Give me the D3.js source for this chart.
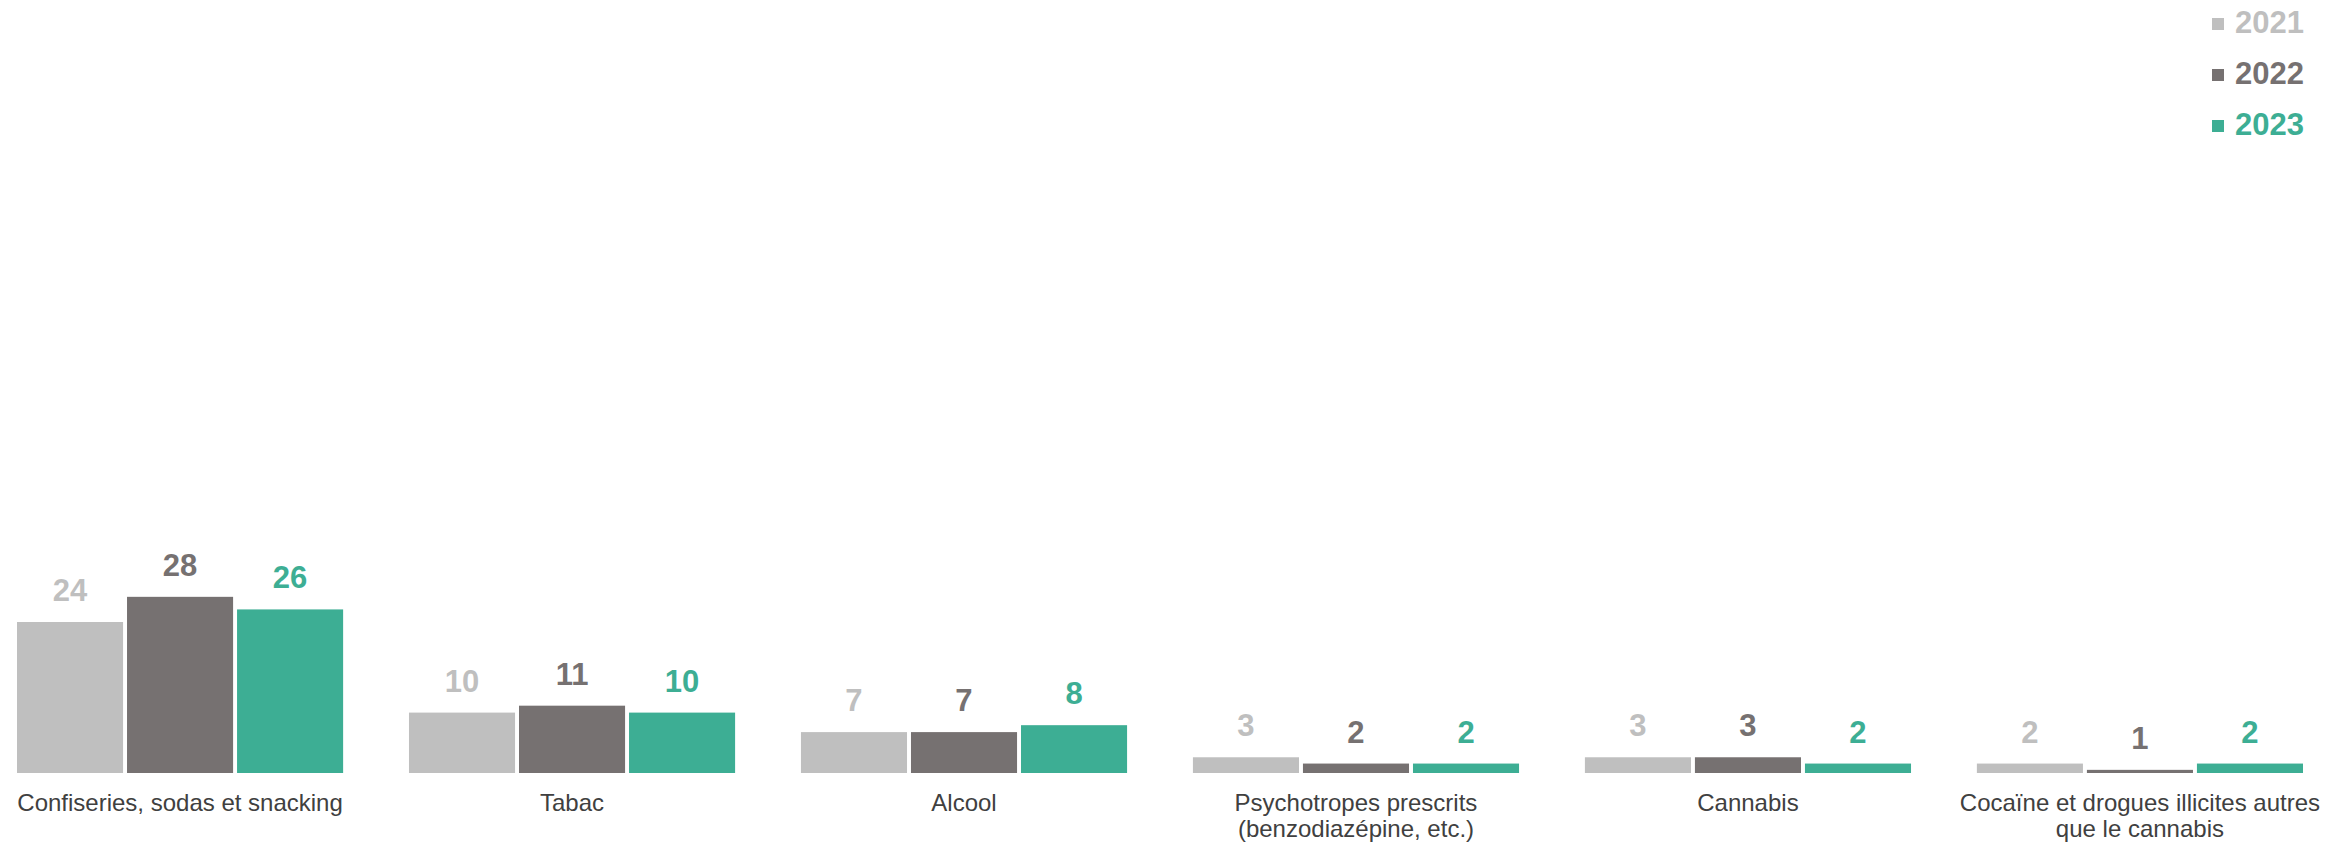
<!DOCTYPE html>
<html lang="fr">
<head>
<meta charset="utf-8">
<title>Consommations</title>
<script src="https://cdn.jsdelivr.net/npm/d3@7"></script>
<style>
  html, body { margin: 0; padding: 0; background: #fff; }
  svg { display: block; font-family: Arial, "Liberation Sans", sans-serif; }
</style>
</head>
<body>
<div id="chart"></div>
<script>
// data (labels are rounded values)
const categories = [
  ['Confiseries, sodas et snacking'],
  ['Tabac'],
  ['Alcool'],
  ['Psychotropes prescrits', '(benzodiazépine, etc.)'],
  ['Cannabis'],
  ['Cocaïne et drogues illicites autres', 'que le cannabis'],
];
const years = ['2021', '2022', '2023'];
const values2021 = [24, 9.6, 6.5, 2.5, 2.5, 1.5];
const values2022 = [28, 10.7, 6.5, 1.5, 2.5, 0.5];
const values2023 = [26, 9.6, 7.6, 1.5, 1.5, 1.5];
const colors = ['#bfbfbf', '#767171', '#3dae94'];

const width = 2346;
const height = 846;
const baseY = 773;

const series = [values2021, values2022, values2023];
const catKeys = categories.map((c) => c.join(' '));

const svg = d3.select('#chart')
  .append('svg')
  .attr('width', width)
  .attr('height', height)
  .attr('viewBox', `0 0 ${width} ${height}`);

const x = d3.scaleBand()
  .domain(catKeys)
  .range([17, 2303])
  .paddingInner(0.168)
  .paddingOuter(0);

const xYear = d3.scaleBand()
  .domain(years)
  .range([0, x.bandwidth()])
  .paddingInner(0.036)
  .paddingOuter(0);

const y = d3.scaleLinear()
  .domain([0, 120])
  .range([baseY, 18]);

const color = d3.scaleOrdinal().domain(years).range(colors);

const rows = catKeys.map((key, i) => ({
  key,
  lines: categories[i],
  vals: years.map((yr, j) => ({ year: yr, value: series[j][i] })),
}));

const groups = svg.selectAll('g.cat')
  .data(rows)
  .join('g')
  .attr('class', 'cat')
  .attr('transform', (d) => `translate(${x(d.key)},0)`);

groups.selectAll('rect')
  .data((d) => d.vals)
  .join('rect')
  .attr('x', (d) => xYear(d.year))
  .attr('y', (d) => y(d.value))
  .attr('width', xYear.bandwidth())
  .attr('height', (d) => y(0) - y(d.value))
  .attr('fill', (d) => color(d.year));

groups.selectAll('text.val')
  .data((d) => d.vals)
  .join('text')
  .attr('class', 'val')
  .attr('x', (d) => xYear(d.year) + xYear.bandwidth() / 2)
  .attr('y', (d) => y(d.value) - 21)
  .attr('text-anchor', 'middle')
  .attr('font-size', 31)
  .attr('font-weight', 'bold')
  .attr('fill', (d) => color(d.year))
  .text((d) => Math.round(d.value));

// category labels, one or two lines
groups.append('text')
  .attr('class', 'cat-label')
  .attr('text-anchor', 'middle')
  .attr('font-size', 24)
  .attr('fill', '#404040')
  .selectAll('tspan')
  .data((d) => d.lines)
  .join('tspan')
  .attr('x', x.bandwidth() / 2)
  .attr('y', (d, i) => 811 + i * 26)
  .text((d) => d);

// legend top right
const legend = svg.append('g')
  .attr('transform', 'translate(2212,0)');

const item = legend.selectAll('g')
  .data(years)
  .join('g')
  .attr('transform', (d, i) => `translate(0,${33 + i * 51})`);

item.append('rect')
  .attr('x', 0)
  .attr('y', -15)
  .attr('width', 12)
  .attr('height', 12)
  .attr('fill', (d) => color(d));

item.append('text')
  .attr('x', 23)
  .attr('y', 0)
  .attr('font-size', 31)
  .attr('font-weight', 'bold')
  .attr('fill', (d) => color(d))
  .text((d) => d);
</script>
</body>
</html>
